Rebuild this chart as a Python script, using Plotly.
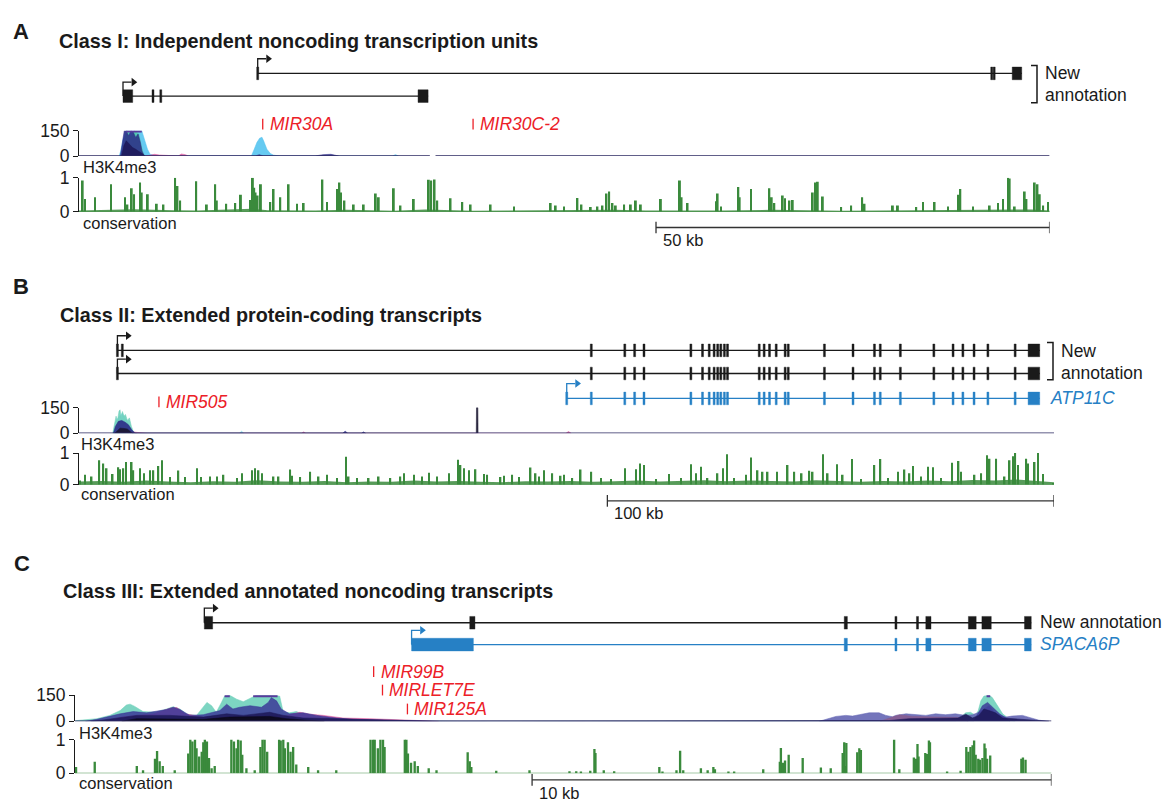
import plotly.graph_objects as go

W, H = 1162, 809
FONT = "Liberation Sans, Arial, Helvetica, sans-serif"
INK = "#1a1a1a"
BLUE = "#2680c5"
RED = "#ec2027"
GREEN = "#3a8a3c"

# ======================= DATA (positions in kb from window start) =======================
# ---- Panel A ----
A_LEN = 123.3
A_TX1_EXON_START = [22.70, 115.95, 116.26, 118.55]
A_TX1_EXON_END = [22.70, 115.95, 116.26, 119.76]
A_TX2_EXON_START = [5.59, 9.40, 10.39, 43.07]
A_TX2_EXON_END = [6.82, 9.40, 10.39, 44.35]
A_MIR_NAMES = ["MIR30A", "MIR30C-2"]
A_MIR_POS = [23.34, 50.06]
A_H3_GAP = [44.57, 45.29]
A_H3_LBLUE_X = [5.10, 5.30, 5.60, 5.98, 7.97, 8.40, 8.70, 9.03, 9.60, 10.50,
                21.90, 22.26, 22.60, 22.94, 23.24, 23.45, 23.87, 24.30, 24.72, 25.50,
                39.8, 40.2, 40.6]
A_H3_LBLUE_Y = [0, 30, 100, 150, 150, 90, 40, 10, 4, 0,
                0, 40, 80, 105, 111, 90, 40, 15, 5, 0,
                0, 8, 0]
A_H3_TEAL_X = [5.50, 5.90, 6.20, 6.60, 7.00, 7.60, 7.90, 8.20, 8.50]
A_H3_TEAL_Y = [0, 120, 150, 110, 150, 130, 60, 10, 0]
A_H3_NAVY_X = [5.25, 5.50, 5.75, 6.00, 6.30, 6.60, 6.90, 7.20, 7.50, 7.80, 8.00, 8.30,
               22.4, 22.9, 23.4, 30.0, 31.0, 32.0, 33.0]
A_H3_NAVY_Y = [0, 70, 150, 150, 120, 150, 140, 110, 130, 80, 30, 0,
               0, 8, 0, 0, 8, 10, 0]
A_H3_DARK_X = [5.40, 5.70, 6.00, 6.40, 6.80, 7.20, 7.60, 8.00, 8.40]
A_H3_DARK_Y = [0, 60, 90, 70, 50, 40, 30, 15, 0]
A_H3_PINK_X = [8.5, 9.0, 9.6, 10.2, 11.0, 12.6, 13.0, 13.5, 13.9]
A_H3_PINK_Y = [0, 6, 10, 6, 3, 0, 12, 8, 0]
A_H3_CLIP = [(5.98, 7.97)]
A_CONS_POS = [0.47, 0.76, 2.04, 4.07, 5.85, 6.15, 6.70, 7.0, 7.76, 7.97, 8.74, 9.88, 10.73, 12.21, 12.51,
              12.85, 14.89, 16.24, 17.30, 17.51, 18.70, 19.85, 20.57, 21.76, 22.09, 22.26, 22.43, 22.69,
              23.11, 24.30, 24.72, 25.57, 26.63, 27.69, 28.54, 30.92, 31.51, 32.78, 33.08, 33.29, 33.72,
              34.90, 36.17, 37.70, 38.08, 39.99, 40.84, 42.53, 44.44, 44.74, 45.17, 45.51, 47.20, 48.69,
              49.75, 52.29, 55.26, 59.92, 60.56,
              61.62, 63.32, 63.83, 65.01, 65.86, 66.50, 67.01, 67.35, 67.77, 68.19, 69.25, 70.10, 70.74,
              71.37, 73.92, 76.34, 76.55, 77.31, 80.92, 81.13, 81.55, 83.76, 83.93, 85.37, 87.70, 88.00,
              88.33, 89.40, 89.69, 90.25, 90.67, 93.21, 93.51, 93.85, 94.49, 96.82, 98.09, 99.49, 99.79,
              103.39, 104.03, 106.36, 107.21, 108.69, 110.39, 111.66, 111.96, 113.57, 115.69, 116.75,
              117.39, 118.02, 118.23, 118.87, 120.14, 120.36, 121.41, 121.76, 122.05, 122.48, 123.1]
A_CONS_VAL = [0.92, 0.38, 0.43, 0.81, 0.43, 0.22, 0.69, 0.52, 0.86, 0.57, 0.52, 0.24, 0.22, 1.0, 0.76,
              0.33, 0.90, 0.22, 0.81, 0.33, 0.24, 0.26, 0.50, 0.35, 1.0, 0.71, 0.57, 0.48,
              0.81, 0.29, 0.67, 0.43, 0.81, 0.24, 0.26, 0.95, 0.29, 0.67, 0.86, 0.57, 0.33,
              0.22, 0.22, 0.54, 0.43, 0.69, 0.19, 0.38, 0.94, 0.92, 0.95, 0.33, 0.40, 0.29,
              0.22, 0.22, 0.16, 0.26, 0.19,
              0.16, 0.41, 0.22, 0.14, 0.16, 0.19, 0.54, 0.60, 0.26, 0.19, 0.22, 0.22, 0.33,
              0.22, 0.38, 0.92, 0.43, 0.26, 0.31, 0.54, 0.16, 0.73, 0.43, 0.67, 0.69, 0.43,
              0.26, 0.48, 0.40, 0.33, 0.35, 0.57, 0.86, 0.88, 0.45, 0.14, 0.19, 0.43, 0.24,
              0.19, 0.19, 0.14, 0.29, 0.29, 0.16, 0.50, 0.67, 0.16, 0.19, 0.26,
              0.38, 1.0, 0.98, 0.16, 0.60, 0.38, 0.86, 0.81, 0.52, 0.19, 0.29]
A_FLOOR_X = [0, 4, 7, 12, 15, 22, 24, 30, 34, 40, 44, 50, 55, 60, 64, 68, 72, 77, 82, 88, 92, 97,
             102, 108, 112, 117, 121, 123.3]
A_FLOOR_Y = [0.04, 0.06, 0.08, 0.05, 0.04, 0.09, 0.05, 0.04, 0.06, 0.03, 0.07, 0.03, 0.04, 0.03,
             0.05, 0.06, 0.04, 0.03, 0.04, 0.06, 0.05, 0.03, 0.04, 0.05, 0.06, 0.05, 0.07, 0.04]
A_SCALE_KB = 50

# ---- Panel B ----
B_LEN = 218.3
B_SHARED_EXONS = [114.7, 122.2, 124.4, 126.5, 137.0, 139.6, 141.1, 142.2, 143.0, 143.7, 144.5, 145.2,
                  152.3, 153.4, 154.6, 156.1, 158.1, 158.8, 166.9, 173.3, 178.1, 179.4, 183.9, 191.4,
                  195.7, 197.9, 200.4, 203.5, 209.6]
B_LAST_EXON = [212.5, 215.1]
B_TX1_FIRST_EXONS = [8.6, 9.7]
B_TX2_FIRST_EXONS = [8.6]
B_ATP11C_FIRST_EXONS = [109.2]
B_MIR_NAMES = ["MIR505"]
B_MIR_POS = [17.9]
B_H3_LBLUE_X = [7.7, 8.5, 9.0, 9.6, 10.2, 11.0, 12.0, 35.9, 36.4, 36.9]
B_H3_LBLUE_Y = [0, 80, 100, 115, 95, 60, 0, 0, 12, 0]
B_H3_TEAL_X = [7.55, 7.92, 8.30, 8.59, 8.97, 9.19, 9.42, 9.72, 10.09, 10.39, 10.84, 11.29, 11.73, 12.18, 12.93]
B_H3_TEAL_Y = [0, 55, 100, 70, 130, 137, 90, 127, 100, 110, 75, 90, 40, 10, 0]
B_H3_NAVY_X = [7.7, 8.15, 8.82, 9.57, 10.31, 11.06, 11.81, 12.56, 59.0, 59.6, 60.2, 63.2, 63.7, 64.2]
B_H3_NAVY_Y = [0, 40, 70, 75, 65, 50, 20, 0, 0, 12, 0, 0, 8, 0]
B_H3_BLACK_X = [8.0, 8.6, 9.2, 10.0, 10.8, 11.6, 12.0, 88.95, 89.0, 89.3, 89.35]
B_H3_BLACK_Y = [0, 15, 30, 28, 25, 8, 0, 0, 150, 150, 0]
B_H3_PINK_X = [11.5, 12.2, 13.0, 14.0, 15.5, 49.8, 50.3, 50.8, 109.0, 109.6, 110.2]
B_H3_PINK_Y = [0, 8, 5, 3, 0, 0, 8, 0, 0, 10, 0]
B_CONS_POS = [0.2, 1.35, 2.84, 4.56, 5.46, 6.20, 7.55, 8.82, 9.19, 9.94, 10.54, 11.81, 12.18, 13.68, 14.57,
              15.92, 16.67, 17.79, 18.54, 20.40, 22.27, 23.77, 26.38, 27.28, 29.37, 30.87, 32.36, 35.35,
              36.47, 38.71, 39.46, 40.21, 40.96, 43.57, 44.69, 47.31, 47.68, 49.55, 51.79, 53.66, 55.53,
              57.77, 59.79, 60.39, 62.26, 64.87, 67.11, 69.73, 71.97, 72.72, 74.96, 76.83, 78.33, 80.19,
              82.81, 84.83, 85.43, 86.17, 87.29, 88.79, 90.66, 91.41, 94.39, 95.14, 97.01, 98.50, 101.12,
              102.24, 102.99, 104.11, 105.98, 107.85,
              108.59, 110.46, 112.33, 114.72, 116.82, 119.06, 122.20, 124.66, 125.56, 126.53, 129.15,
              132.14, 134.75, 136.99, 138.12, 139.24, 140.73, 142.97, 144.24, 145.07, 146.71, 149.33,
              150.45, 151.94, 153.06, 154.19, 156.28, 158.67, 160.17, 161.81, 163.53, 164.27, 166.59,
              167.64, 169.73, 171.00, 173.02, 175.11, 178.10, 179.45, 181.09, 183.33, 184.83, 185.95,
              186.70, 188.57, 190.06, 191.18, 193.05, 195.52, 196.94, 197.53, 200.52, 202.02, 203.36,
              203.89, 205.38, 207.25, 208.37, 209.12, 209.64, 210.24, 212.11, 212.48, 213.98, 214.72,
              215.84, 218.09]
B_CONS_VAL = [0.13, 0.31, 0.26, 0.77, 0.67, 0.52, 0.34, 0.55, 0.49, 0.52, 0.72, 0.72, 0.46, 0.52, 0.36,
              0.46, 0.46, 0.59, 0.77, 0.24, 0.45, 0.24, 0.52, 0.24, 0.26, 0.26, 0.31, 0.21,
              0.36, 0.46, 0.52, 0.46, 0.36, 0.26, 0.26, 0.48, 0.28, 0.24, 0.41, 0.26, 0.31,
              0.21, 0.88, 0.26, 0.21, 0.21, 0.26, 0.21, 0.26, 0.36, 0.31, 0.26, 0.38, 0.26,
              0.36, 0.79, 0.62, 0.52, 0.46, 0.49, 0.34, 0.31, 0.24, 0.28, 0.31, 0.24, 0.54,
              0.36, 0.26, 0.46, 0.36, 0.28,
              0.31, 0.21, 0.48, 0.41, 0.21, 0.18, 0.52, 0.49, 0.67, 0.62, 0.18,
              0.34, 0.21, 0.65, 0.36, 0.57, 0.21, 0.36, 0.52, 0.96, 0.21, 0.31,
              0.86, 0.46, 0.41, 0.41, 0.41, 0.62, 0.41, 0.36, 0.44, 0.41, 0.96,
              0.36, 0.65, 0.31, 0.81, 0.18, 0.62, 0.81, 0.21, 0.41, 0.48, 0.36,
              0.59, 0.26, 0.57, 0.55, 0.21, 0.69, 0.75, 0.41, 0.31, 0.36, 0.93,
              0.82, 0.82, 0.26, 0.77, 0.90, 1.0, 0.62, 0.82, 0.67, 0.72, 1.0,
              0.34, 0.05]
B_FLOOR_X = [0, 5, 10, 15, 20, 25, 30, 35, 40, 45, 50, 55, 60, 65, 70, 75, 80, 85, 90, 95, 100, 105,
             110, 115, 120, 125, 130, 135, 140, 145, 150, 155, 160, 165, 170, 175, 180, 185, 190, 195,
             200, 205, 210, 215, 218.3]
B_FLOOR_Y = [0.10, 0.12, 0.09, 0.13, 0.10, 0.08, 0.11, 0.09, 0.14, 0.10, 0.09, 0.12, 0.08, 0.10, 0.09,
             0.13, 0.10, 0.12, 0.09, 0.08, 0.11, 0.10, 0.12, 0.09, 0.11, 0.13, 0.10, 0.12, 0.14, 0.11,
             0.13, 0.12, 0.10, 0.14, 0.11, 0.09, 0.12, 0.10, 0.13, 0.11, 0.15, 0.13, 0.16, 0.12, 0.08]
B_SCALE_KB = 100

# ---- Panel C ----
C_LEN = 18.8
C_SHARED_EXON_START = [14.81, 15.79, 16.20, 16.38, 17.20, 17.46, 18.28]
C_SHARED_EXON_END = [14.87, 15.82, 16.24, 16.48, 17.35, 17.64, 18.41]
C_NEW_FIRST_START = [2.49, 7.60]
C_NEW_FIRST_END = [2.65, 7.70]
C_SPACA_FIRST_START = [6.48]
C_SPACA_FIRST_END = [7.67]
C_MIR_NAMES = ["MIR99B", "MIRLET7E", "MIR125A"]
C_MIR_POS = [5.75, 5.92, 6.40]
C_H3_TEAL_X = [0.0, 0.03, 0.42, 0.67, 0.87, 0.99, 1.06, 1.15, 1.31, 1.57, 1.76, 1.89, 2.02, 2.15, 2.34,
               2.47, 2.54, 2.63, 2.72, 2.82, 2.88, 2.98, 3.11, 3.24, 3.43, 3.49, 3.75, 3.85, 3.94, 4.01,
               4.13, 4.26, 4.39, 4.65, 4.97, 5.35, 5.80, 6.31, 6.96, 7.4,
               16.9, 16.95, 17.05, 17.15, 17.24, 17.34, 17.39, 17.44, 17.50, 17.60, 17.66, 17.76,
               17.86, 17.96, 18.04, 18.1]
C_H3_TEAL_Y = [0, 4, 15, 34, 62, 94, 99, 86, 56, 52, 71, 84, 71, 41, 34,
               81, 109, 90, 52, 109, 146, 150, 128, 113, 143, 150, 150, 150, 146, 52,
               49, 56, 43, 34, 19, 11, 7.5, 3.75, 1.9, 0,
               0, 2, 24, 49, 52, 34, 62, 118, 146, 150, 137, 90,
               43, 19, 4, 0]
C_H3_PERI_X = [14.33, 14.46, 14.65, 14.84, 14.97, 15.10, 15.29, 15.48, 15.61, 15.74, 15.80, 16.00, 16.25,
               16.38, 16.57, 16.76, 16.95, 17.15, 17.28, 17.40, 17.60, 17.72, 17.92, 18.04, 18.24, 18.43,
               18.56, 18.75]
C_H3_PERI_Y = [0, 11, 28, 34, 30, 38, 49, 49, 34, 26, 34, 43, 38, 34, 43, 38, 43, 34, 38, 52, 90, 43, 24,
               30, 34, 19, 6, 0]
C_H3_PINK_X = [0.6, 0.87, 1.51, 1.83, 1.96, 2.12, 2.47, 4.07, 4.33, 4.52, 4.78, 5.16, 5.67, 6.06, 6.63, 7.0]
C_H3_PINK_Y = [0, 24, 43, 75, 79, 43, 24, 34, 52, 41, 34, 19, 15, 9, 4, 0]
C_H3_NAVY_X = [0.2, 0.42, 0.87, 1.12, 1.38, 1.76, 1.89, 2.02, 2.21, 2.47, 2.79, 2.92, 3.04, 3.17, 3.37,
               3.59, 3.72, 3.78, 3.88, 3.97, 4.13, 4.39, 4.65, 5.03, 5.35, 5.99, 6.63, 7.0,
               17.30, 17.37, 17.47, 17.57, 17.66, 17.80, 17.92, 18.0]
C_H3_NAVY_Y = [0, 11, 43, 56, 49, 68, 81, 68, 34, 38, 62, 99, 71, 81, 90,
               81, 109, 137, 118, 71, 43, 49, 34, 19, 11, 5.6, 1.9, 0,
               0, 34, 90, 109, 81, 43, 19, 0]
C_H3_MAUVE_X = [15.5, 15.67, 15.87, 16.12, 16.38, 17.0, 17.2]
C_H3_MAUVE_Y = [0, 19, 38, 28, 26, 22, 0]
C_H3_DARK_X = [0.3, 0.54, 1.19, 1.83, 2.47, 2.92, 3.24, 3.75, 4.01, 4.39, 5.03, 5.67, 6.31, 6.9,
               15.5, 15.67, 16.06, 16.70, 17.0, 17.15, 17.28, 17.40, 17.50, 17.60, 17.72, 17.86, 18.30,
               18.62, 18.75]
C_H3_DARK_Y = [0, 7.5, 34, 34, 24, 43, 34, 52, 34, 19, 15, 7.5, 3.75, 0,
               0, 4, 15, 15, 19, 41, 19, 34, 71, 62, 49, 19, 11, 2, 0]
C_H3_BLACK_X = [0.9, 1.19, 2.47, 2.98, 3.75, 4.07, 4.39, 4.8]
C_H3_BLACK_Y = [0, 15, 11, 24, 28, 15, 7.5, 0]
C_H3_CLIP = [(2.88, 2.98), (3.43, 3.90), (17.55, 17.62)]
C_CONS_POS = [0.02, 0.38, 1.19, 1.31, 1.54, 1.58, 1.63, 1.69, 1.92,
              2.18, 2.22, 2.26, 2.31, 2.34, 2.39, 2.44, 2.47, 2.50, 2.54, 2.58, 2.63, 2.69,
              3.01, 3.06, 3.11, 3.14, 3.19, 3.22, 3.30, 3.46,
              3.57, 3.61, 3.65, 3.70,
              3.93, 3.96, 4.01, 4.04, 4.10, 4.15, 4.20, 4.26,
              4.49, 4.68, 5.03,
              5.69, 5.74, 5.77, 5.83, 5.88, 5.93, 5.96,
              6.35, 6.38, 6.41, 6.47, 6.54, 6.60,
              6.81, 6.96,
              7.56, 7.60, 7.63,
              8.11, 8.75,
              9.52, 9.65, 9.74, 9.92, 10.0, 10.02, 10.18, 10.38, 11.25, 11.31, 11.58, 11.65, 11.71, 12.05,
              12.18, 12.29, 12.32, 12.58, 12.69, 13.25, 13.57, 13.59, 13.63, 13.67, 13.74, 14.01, 14.36,
              14.55, 14.78, 14.81, 14.83, 14.85, 15.06, 15.10, 15.13, 15.77, 15.87, 16.15, 16.19, 16.22,
              16.24, 16.37, 16.40, 16.44, 16.46, 16.79, 17.05, 17.16, 17.20, 17.24, 17.28, 17.31, 17.34,
              17.39, 17.42, 17.47, 17.51, 17.53, 17.56, 17.62, 18.22, 18.25, 18.30]
C_CONS_VAL = [0.19, 0.34, 0.22, 0.09, 0.43, 0.66, 0.36, 0.22, 0.09,
              0.59, 1.0, 0.94, 1.0, 0.74, 0.5, 0.64, 0.92, 1.0, 0.94, 0.45, 0.15, 0.22,
              1.0, 0.94, 0.74, 1.0, 0.97, 0.55, 0.15, 0.09,
              0.78, 1.0, 1.0, 0.64,
              1.0, 0.97, 1.0, 0.74, 0.92, 0.64, 0.78, 0.26,
              0.19, 0.09, 0.09,
              1.0, 1.0, 1.0, 0.74, 1.0, 1.0, 0.78,
              1.0, 1.0, 0.59, 0.31, 0.36, 0.22,
              0.15, 0.09,
              0.62, 0.36, 0.19,
              0.08, 0.09,
              0.06, 0.06, 0.04, 0.08, 0.72, 0.6, 0.09, 0.06, 0.19, 0.03, 0.09, 0.67, 0.09, 0.15,
              0.09, 0.19, 0.12, 0.04, 0.04, 0.12, 0.34, 0.75, 0.31, 0.38, 0.55, 0.45, 0.17,
              0.15, 0.6, 0.92, 0.22, 0.9, 0.62, 0.74, 0.69, 1.0, 0.12, 0.47, 0.43, 0.87,
              0.5, 0.6, 0.57, 0.97, 0.92, 0.03, 0.08, 0.78, 0.64, 0.78, 0.83, 0.97, 0.55,
              0.43, 0.4, 0.45, 0.88, 0.74, 0.43, 0.53, 0.43, 0.47, 0.4]
C_SCALE_KB = 10

# ======================= LAYOUT CONSTANTS (pixels) =======================
PANEL = {
    "A": dict(xa="x", x0=79, x1=1049.6, length=A_LEN, h3="y2", cons="y5",
              h3_top=123.7, h3_bot=149.7, cons_top=172, cons_bot=207),
    "B": dict(xa="x2", x0=79, x1=1054, length=B_LEN, h3="y3", cons="y6",
              h3_top=407.7, h3_bot=434, cons_top=454.3, cons_bot=486.7),
    "C": dict(xa="x3", x0=75, x1=1051.5, length=C_LEN, h3="y4", cons="y7",
              h3_top=702.7, h3_bot=729.3, cons_top=748, cons_bot=782.7),
}
for p in PANEL.values():
    p["scale"] = (p["x1"] - p["x0"]) / p["length"]

fig = go.Figure()


def tr(**kw):
    kw.setdefault("showlegend", False)
    kw.setdefault("hoverinfo", "skip")
    fig.add_trace(go.Scatter(**kw))


def add_tx(p, row, top, starts, ends, color, half=6.5, lw=1.3):
    xa, sc = p["xa"], p["scale"]
    s0, e1 = min(starts), max(ends)
    tr(x=[s0, e1], y=[row, row], mode="lines", line=dict(color=color, width=lw), xaxis=xa, yaxis="y")
    xs, ys = [], []
    minw = 2.0 / sc
    for s, e in zip(starts, ends):
        if e - s < minw:
            c = (s + e) / 2
            s, e = c - minw / 2, c + minw / 2
        xs += [s, e, e, s, s, None]
        ys += [row - half, row - half, row + half, row + half, row - half, None]
    tr(x=xs, y=ys, mode="lines", fill="toself", fillcolor=color, line=dict(color=color, width=0.4),
       xaxis=xa, yaxis="y")
    if top is not None:
        tr(x=[s0, s0, s0 + 8.5 / sc], y=[row, top, top], mode="lines",
           line=dict(color=color, width=lw), xaxis=xa, yaxis="y")
        tr(x=[s0 + 10.5 / sc], y=[top], mode="markers",
           marker=dict(symbol="triangle-right", size=7.5, color=color, line=dict(width=0)),
           xaxis=xa, yaxis="y")


def add_area(p, xs, ys, color, alpha):
    r, g, b = int(color[1:3], 16), int(color[3:5], 16), int(color[5:7], 16)
    tr(x=xs, y=ys, mode="lines", fill="tozeroy", fillcolor=f"rgba({r},{g},{b},{alpha})",
       line=dict(color=f"rgba({r},{g},{b},{alpha})", width=0.6), xaxis=p["xa"], yaxis=p["h3"])


def add_clip(p, ranges):
    for s, e in ranges:
        tr(x=[s, e], y=[147.5, 147.5], mode="lines", line=dict(color="#5a3a9c", width=3),
           xaxis=p["xa"], yaxis=p["h3"])


def add_baseline(p, segs):
    xs, ys = [], []
    for s, e in segs:
        xs += [s, e, None]
        ys += [0, 0, None]
    tr(x=xs, y=ys, mode="lines", line=dict(color="#2d2a62", width=1.6), xaxis=p["xa"], yaxis=p["h3"])


def add_floor(p, xs, ys):
    tr(x=xs, y=ys, mode="lines", fill="tozeroy", fillcolor="rgba(58,138,60,0.85)",
       line=dict(width=0, color="rgba(58,138,60,0.85)"), xaxis=p["xa"], yaxis=p["cons"])


def add_cons(p, pos, val, width):
    fig.add_trace(go.Bar(x=pos, y=val, width=width, marker=dict(color=GREEN, line=dict(width=0)),
                         xaxis=p["xa"], yaxis=p["cons"], showlegend=False, hoverinfo="skip"))
    tr(x=[0, p["length"]], y=[0, 0], mode="lines", line=dict(color="#4d944f", width=1.4),
       xaxis=p["xa"], yaxis=p["cons"])


def add_mirs(p, names, pos, y_list):
    for n, x, y in zip(names, pos, y_list):
        tr(x=[x, x], y=[y - 5.5, y + 5.5], mode="lines", line=dict(color=RED, width=1.3),
           xaxis=p["xa"], yaxis="y")
        fig.add_annotation(x=x, y=y, xref=p["xa"], yref="y", text=f"<i>{n}</i>", showarrow=False,
                           xanchor="left", yanchor="middle", xshift=5,
                           font=dict(family=FONT, size=17.5, color=RED))


def add_scalebar(p, kb, y, label, label_y):
    L = p["length"]
    tr(x=[L - kb, L - kb, None, L - kb, L, None, L, L], y=[y - 6, y + 6, None, y, y, None, y - 6, y + 6],
       mode="lines", line=dict(color="#333333", width=1.3), xaxis=p["xa"], yaxis="y")
    fig.add_annotation(x=L - kb, y=label_y, xref=p["xa"], yref="y", text=label, showarrow=False,
                       xanchor="left", yanchor="middle", xshift=5,
                       font=dict(family=FONT, size=16.5, color=INK))


def txt(x, y, text, size=17, color=INK, xanchor="left"):
    fig.add_annotation(x=x / W, y=1 - y / H, xref="paper", yref="paper", text=text, showarrow=False,
                       xanchor=xanchor, yanchor="middle", font=dict(family=FONT, size=size, color=color))


def bracket(x0, x1, y0, y1):
    fig.add_shape(type="path", xref="paper", yref="paper",
                  path=f"M {x0/W},{1-y0/H} L {x1/W},{1-y0/H} L {x1/W},{1-y1/H} L {x0/W},{1-y1/H}",
                  line=dict(color=INK, width=1.5))


# H3K4me3 palette
LBLUE, TEAL, NAVY, DARK, BLK, PINK = "#55c4ef", "#52c7a9", "#2b2a86", "#1e1a5a", "#0c0a1c", "#d9519a"
PERI, MAUVE, AQUA = "#6566b4", "#8a5a8c", "#6fd0bb"

# ---------------- Panel A ----------------
pa = PANEL["A"]
add_tx(pa, 65, 50, A_TX1_EXON_START, A_TX1_EXON_END, INK)
add_tx(pa, 88.3, 74, A_TX2_EXON_START, A_TX2_EXON_END, INK)
add_mirs(pa, A_MIR_NAMES, A_MIR_POS, [117, 117])
add_area(pa, A_H3_LBLUE_X, A_H3_LBLUE_Y, LBLUE, 0.9)
add_area(pa, A_H3_TEAL_X, A_H3_TEAL_Y, TEAL, 0.9)
add_area(pa, A_H3_NAVY_X, A_H3_NAVY_Y, NAVY, 0.85)
add_area(pa, A_H3_DARK_X, A_H3_DARK_Y, DARK, 0.9)
add_area(pa, A_H3_PINK_X, A_H3_PINK_Y, PINK, 0.8)
add_clip(pa, A_H3_CLIP)
add_baseline(pa, [(0, A_H3_GAP[0]), (A_H3_GAP[1], A_LEN)])
add_floor(pa, A_FLOOR_X, A_FLOOR_Y)
add_cons(pa, A_CONS_POS, A_CONS_VAL, 0.24)
add_scalebar(pa, A_SCALE_KB, 223, "50 kb", 235.5)

# ---------------- Panel B ----------------
pb = PANEL["B"]
b_tx1_s = B_TX1_FIRST_EXONS + B_SHARED_EXONS + [B_LAST_EXON[0]]
b_tx1_e = B_TX1_FIRST_EXONS + B_SHARED_EXONS + [B_LAST_EXON[1]]
b_tx2_s = B_TX2_FIRST_EXONS + B_SHARED_EXONS + [B_LAST_EXON[0]]
b_tx2_e = B_TX2_FIRST_EXONS + B_SHARED_EXONS + [B_LAST_EXON[1]]
b_atp_s = B_ATP11C_FIRST_EXONS + B_SHARED_EXONS + [B_LAST_EXON[0]]
b_atp_e = B_ATP11C_FIRST_EXONS + B_SHARED_EXONS + [B_LAST_EXON[1]]
add_tx(pb, 349, 334, b_tx1_s, b_tx1_e, INK)
add_tx(pb, 372.7, 358, b_tx2_s, b_tx2_e, INK)
add_tx(pb, 398.3, 383, b_atp_s, b_atp_e, BLUE)
add_mirs(pb, B_MIR_NAMES, B_MIR_POS, [401.7])
add_area(pb, B_H3_LBLUE_X, B_H3_LBLUE_Y, "#7fdcec", 0.85)
add_area(pb, B_H3_TEAL_X, B_H3_TEAL_Y, AQUA, 0.9)
add_area(pb, B_H3_PINK_X, B_H3_PINK_Y, PINK, 0.8)
add_area(pb, B_H3_NAVY_X, B_H3_NAVY_Y, NAVY, 0.9)
add_area(pb, B_H3_BLACK_X, B_H3_BLACK_Y, "#1a1630", 0.9)
add_baseline(pb, [(0, B_LEN)])
add_floor(pb, B_FLOOR_X, B_FLOOR_Y)
add_cons(pb, B_CONS_POS, B_CONS_VAL, 0.34)
add_scalebar(pb, B_SCALE_KB, 503.3, "100 kb", 515.5)

# ---------------- Panel C ----------------
pc = PANEL["C"]
add_tx(pc, 628.3, 613.3, C_NEW_FIRST_START + C_SHARED_EXON_START, C_NEW_FIRST_END + C_SHARED_EXON_END, INK)
add_tx(pc, 650.7, 636, C_SPACA_FIRST_START + C_SHARED_EXON_START, C_SPACA_FIRST_END + C_SHARED_EXON_END,
       BLUE)
add_mirs(pc, C_MIR_NAMES, C_MIR_POS, [678.3, 697.3, 716.7])
add_area(pc, C_H3_TEAL_X, C_H3_TEAL_Y, AQUA, 0.9)
add_area(pc, C_H3_PERI_X, C_H3_PERI_Y, PERI, 0.9)
add_area(pc, C_H3_PINK_X, C_H3_PINK_Y, PINK, 0.85)
add_area(pc, C_H3_NAVY_X, C_H3_NAVY_Y, "#3b3a98", 0.85)
add_area(pc, C_H3_MAUVE_X, C_H3_MAUVE_Y, MAUVE, 0.8)
add_area(pc, C_H3_DARK_X, C_H3_DARK_Y, DARK, 0.9)
add_area(pc, C_H3_BLACK_X, C_H3_BLACK_Y, BLK, 0.9)
add_clip(pc, C_H3_CLIP)
add_baseline(pc, [(0, C_LEN)])
add_cons(pc, C_CONS_POS, C_CONS_VAL, 0.045)
add_scalebar(pc, C_SCALE_KB, 789.3, "10 kb", 803)

# ---------------- Text ----------------
txt(11, 21.7, "<b>A</b>", size=22)
txt(11, 283, "<b>B</b>", size=22)
txt(12, 568, "<b>C</b>", size=22)
txt(57, 31.7, "<b>Class I: Independent noncoding transcription units</b>", size=19.8)
txt(58, 312.7, "<b>Class II: Extended protein-coding transcripts</b>", size=19.8)
txt(61, 595.5, "<b>Class III: Extended annotated noncoding transcripts</b>", size=19.8)

bracket(1031, 1037, 57, 95)
txt(1043, 65, "New", size=17.5)
txt(1043, 87, "annotation", size=17.5)
bracket(1047, 1053, 341, 379)
txt(1059, 350, "New", size=17.5)
txt(1059, 371.7, "annotation", size=17.5)
txt(1048, 398, "<i>ATP11C</i>", size=17.5, color=BLUE)
txt(1038, 628, "New annotation", size=17.5)
txt(1038, 650, "<i>SPACA6P</i>", size=17.5, color=BLUE)

for p, lab_h3, lab_cons, lx in [(pa, 161, 218.3, 81), (pb, 445.5, 496.7, 79), (pc, 741.7, 792.3, 77)]:
    txt(lx, lab_h3, "H3K4me3", size=16.5)
    txt(lx, lab_cons, "conservation", size=16.5)


# ---------------- Axes ----------------
def xax(p):
    return dict(domain=[p["x0"] / W, p["x1"] / W], range=[0, p["length"]], visible=False,
                fixedrange=True)


def yax(top, bot, rng, vals, anchor):
    return dict(domain=[1 - bot / H, 1 - top / H], range=rng, anchor=anchor, tickvals=vals,
                ticktext=[str(v) for v in vals], ticks="outside", ticklen=5, tickwidth=1,
                tickcolor=INK, showline=True, linecolor=INK, linewidth=1, showgrid=False,
                zeroline=False, tickfont=dict(family=FONT, size=17.5, color=INK), fixedrange=True)


fig.update_layout(
    width=W, height=H, autosize=False,
    margin=dict(l=0, r=0, t=0, b=0),
    paper_bgcolor="white", plot_bgcolor="rgba(0,0,0,0)",
    showlegend=False, barmode="overlay", hovermode=False,
    xaxis=xax(pa), xaxis2=xax(pb), xaxis3=xax(pc),
    yaxis=dict(domain=[0, 1], range=[H, 0], visible=False, anchor="x", fixedrange=True),
    yaxis2=yax(pa["h3_top"], pa["h3_bot"], [0, 150], [0, 150], "x"),
    yaxis3=yax(pb["h3_top"], pb["h3_bot"], [0, 150], [0, 150], "x2"),
    yaxis4=yax(pc["h3_top"], pc["h3_bot"], [0, 150], [0, 150], "x3"),
    yaxis5=yax(pa["cons_top"], pa["cons_bot"], [0, 1], [0, 1], "x"),
    yaxis6=yax(pb["cons_top"], pb["cons_bot"], [0, 1], [0, 1], "x2"),
    yaxis7=yax(pc["cons_top"], pc["cons_bot"], [0, 1], [0, 1], "x3"),
)

POST = ("document.documentElement.style.margin='0px';document.documentElement.style.overflow='hidden';"
        "document.body.style.margin='0px';document.body.style.padding='0px';"
        "document.body.style.overflow='hidden';"
        "var gd=document.getElementById('{plot_id}');gd.style.position='fixed';"
        "gd.style.top='0px';gd.style.left='0px';")
fig.write_html("out.html", config={"displayModeBar": False}, post_script=POST)
